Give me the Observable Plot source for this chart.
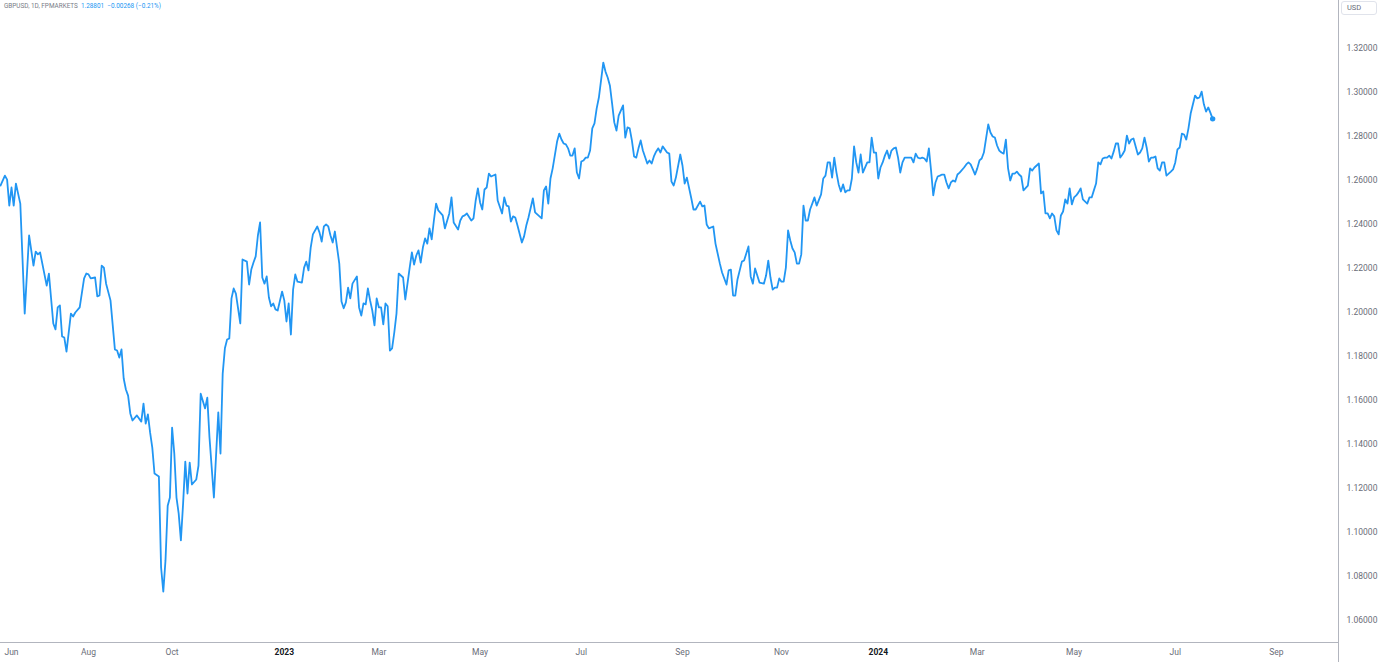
<!DOCTYPE html>
<html>
<head>
<meta charset="utf-8">
<script src="https://cdn.jsdelivr.net/npm/d3@7"></script>
<script src="https://cdn.jsdelivr.net/npm/@observablehq/plot@0.6"></script>
<style>
  html, body { margin: 0; padding: 0; background: #ffffff; }
  #wrap { position: relative; width: 1380px; height: 662px; overflow: hidden; font-family: Roboto, "Noto Sans", sans-serif; }
  #legend { position: absolute; left: 4px; top: 2px; font-size: 6.4px; color: #787b86; white-space: nowrap; }
  #legend .val { color: #2196F3; margin-left: 3px; }
  #unit { position: absolute; left: 1341px; top: 1px; width: 36px; height: 14px; border: 1px solid #e0e3eb; border-radius: 3px; font-size: 7.5px; color: #6a6d78; line-height: 12px; padding-left: 5px; box-sizing: border-box; }
  .rule { position: absolute; background: #b2b5be; }
</style>
</head>
<body>
<div id="wrap">
  <div id="chart"></div>
  <div class="rule" style="left:1338px;top:0;width:1px;height:662px;"></div>
  <div class="rule" style="left:0;top:642px;width:1338px;height:1px;"></div>
  <div id="legend">GBPUSD, 1D, FPMARKETS<span class="val">1.28801&nbsp;&nbsp;−0.00268 (−0.21%)</span></div>
  <div id="unit">USD</div>
</div>
<script>
// Daily closes, keyed by trading-session index
const series2022 = [[0,1.2577],[2,1.2622],[3,1.2604],[4,1.2486],[5,1.2568],[6,1.2486],[7,1.2586],[9,1.2495],[11,1.1995],[13,1.2350],[15,1.2213],[16,1.2277],[17,1.2264],[18,1.2273],[21,1.2122],[22,1.2177],[24,1.1950],[25,1.1923],[26,1.2023],[27,1.2032],[28,1.1891],[29,1.1886],[30,1.1822],[32,1.1995],[33,1.1982],[34,1.2000],[36,1.2023],[38,1.2155],[39,1.2177],[40,1.2173],[41,1.2155],[43,1.2159],[44,1.2073],[45,1.2077],[46,1.2213],[47,1.2204],[48,1.2131],[50,1.2055],[52,1.1832],[53,1.1827],[54,1.1795],[55,1.1832],[56,1.1700],[57,1.1650],[58,1.1622],[59,1.1541],[60,1.1509],[62,1.1532],[64,1.1504],[65,1.1586],[66,1.1495],[67,1.1537],[68,1.1455],[69,1.1386],[70,1.1268],[72,1.1255],[73,1.0841],[74,1.0731],[75,1.0873],[76,1.1122],[77,1.1159],[78,1.1477],[79,1.1359],[80,1.1159],[81,1.1086],[82,1.0964],[83,1.1131],[84,1.1322],[85,1.1177],[86,1.1318],[87,1.1218],[89,1.1241],[90,1.1304],[91,1.1631],[93,1.1564],[94,1.1613],[95,1.1432],[97,1.1159],[99,1.1546],[100,1.1359],[101,1.1722],[102,1.1837],[103,1.1877],[104,1.1882],[105,1.2064],[106,1.2109],[107,1.2086],[109,1.1950],[110,1.2241],[112,1.2231],[113,1.2127],[114,1.2195],[115,1.2227],[116,1.2255],[117,1.2350],[118,1.2409]];

const series2023 = [[119,1.2159],[120,1.2131],[121,1.2164],[122,1.2068],[123,1.2028],[124,1.2041],[125,1.2014],[126,1.2009],[128,1.2095],[129,1.2055],[130,1.1959],[131,1.2041],[132,1.1900],[133,1.2104],[134,1.2173],[135,1.2140],[137,1.2136],[138,1.2204],[139,1.2231],[140,1.2191],[141,1.2295],[142,1.2355],[144,1.2391],[145,1.2364],[146,1.2322],[147,1.2391],[148,1.2400],[149,1.2391],[150,1.2350],[151,1.2318],[152,1.2368],[154,1.2222],[155,1.2050],[156,1.2019],[157,1.2046],[158,1.2113],[159,1.2064],[160,1.2131],[162,1.2164],[163,1.2023],[164,1.1986],[165,1.2041],[166,1.2037],[167,1.2109],[168,1.2055],[169,1.2009],[170,1.1941],[171,1.2064],[172,1.2023],[173,1.2023],[174,1.1946],[175,1.2041],[176,1.2028],[177,1.1827],[178,1.1837],[179,1.1909],[180,1.1995],[181,1.2177],[183,1.2159],[184,1.2059],[185,1.2131],[186,1.2204],[187,1.2273],[188,1.2218],[189,1.2259],[190,1.2282],[191,1.2227],[192,1.2295],[193,1.2337],[194,1.2313],[195,1.2382],[196,1.2332],[197,1.2418],[198,1.2495],[199,1.2464],[201,1.2441],[202,1.2382],[204,1.2450],[205,1.2523],[206,1.2409],[208,1.2377],[209,1.2418],[210,1.2437],[211,1.2441],[212,1.2450],
[214,1.2418],[215,1.2428],[216,1.2509],[217,1.2564],[218,1.2500],[219,1.2468],[220,1.2559],[221,1.2568],[222,1.2631],[223,1.2618],[225,1.2627],[226,1.2509],[228,1.2450],[229,1.2523],[230,1.2486],[231,1.2482],[232,1.2413],[233,1.2437],[234,1.2432],[235,1.2395],[237,1.2318],[238,1.2346],[239,1.2395],[240,1.2432],[242,1.2519],[243,1.2455],[245,1.2437],[246,1.2428],[247,1.2555],[248,1.2573],[249,1.2495],[250,1.2609],[251,1.2655],[253,1.2777],[254,1.2813],[255,1.2786],[256,1.2768],[257,1.2764],[258,1.2746],[259,1.2713],[260,1.2713],[261,1.2746],[262,1.2636],[263,1.2609],[264,1.2686],[265,1.2691],[266,1.2704],[267,1.2704],[268,1.2736],[269,1.2837],[270,1.2859],[271,1.2928],[272,1.2977],[274,1.3136],[275,1.3095],[276,1.3068],[277,1.3032],[278,1.2950],[279,1.2864],[280,1.2827],[281,1.2895],[283,1.2941],[284,1.2795],[285,1.2841],[286,1.2837],[287,1.2782],[288,1.2709],[289,1.2704],[290,1.2746],[291,1.2782],[292,1.2736],[294,1.2677],[295,1.2691],[296,1.2677],[297,1.2709],[298,1.2731],[299,1.2746],[300,1.2727],[301,1.2755],[303,1.2727],
[304,1.2722],[305,1.2595],[306,1.2577],[307,1.2613],[309,1.2718],[310,1.2668],[311,1.2586],[312,1.2613],[314,1.2519],[315,1.2468],[316,1.2468],[318,1.2504],[319,1.2482],[320,1.2486],[321,1.2400],[322,1.2382],[324,1.2391],[325,1.2313],[327,1.2222],[328,1.2182],[330,1.2127],[331,1.2191],[332,1.2195],[333,1.2077],[334,1.2077],[335,1.2150],[337,1.2231],[338,1.2236],[339,1.2268],[340,1.2300],[341,1.2164],[342,1.2131],[343,1.2200],[344,1.2168],[345,1.2136],[347,1.2131],[348,1.2168],[349,1.2236],[350,1.2159],[351,1.2104],[352,1.2113],[353,1.2113],[354,1.2155],[355,1.2140],[356,1.2140],[357,1.2204],[358,1.2373],[359,1.2327],[360,1.2291],[361,1.2273],[362,1.2222],[363,1.2222],[364,1.2264],[365,1.2486],[366,1.2418],[367,1.2418],[368,1.2468],[369,1.2495],[370,1.2523],[371,1.2486],[373,1.2537],
[374,1.2609],[375,1.2622],[376,1.2682],[377,1.2682],[378,1.2613],[379,1.2704],[380,1.2636],[381,1.2582],[382,1.2550],[383,1.2582],[384,1.2546],[385,1.2555],[386,1.2555],[387,1.2609],[388,1.2755],[389,1.2682],[390,1.2636],[391,1.2718],[392,1.2636],[394,1.2682],[395,1.2682],[396,1.2795],[397,1.2727],[398,1.2727]];

const series2024 = [[399,1.2609],[400,1.2659],[401,1.2682],[402,1.2713],[403,1.2736],[404,1.2700],[405,1.2736],[406,1.2746],[407,1.2750],[408,1.2704],[409,1.2636],[410,1.2682],[411,1.2704],[412,1.2704],[414,1.2704],[415,1.2682],[416,1.2722],[417,1.2704],[418,1.2700],[419,1.2704],[420,1.2700],[421,1.2686],[422,1.2746],[423,1.2645],[424,1.2532],[425,1.2591],[426,1.2618],[427,1.2622],[428,1.2627],[429,1.2627],[430,1.2591],[431,1.2564],[432,1.2591],[433,1.2600],[434,1.2595],[435,1.2627],[436,1.2636],[438,1.2659],[439,1.2673],[440,1.2682],[441,1.2673],[442,1.2650],[443,1.2627],[444,1.2655],[445,1.2691],[446,1.2700],[447,1.2727],[448,1.2791],[449,1.2855],[450,1.2818],[451,1.2800],[452,1.2795],[453,1.2759],[454,1.2736],[455,1.2727],[456,1.2722],[457,1.2786],[458,1.2655],
[459,1.2600],[460,1.2631],[461,1.2631],[462,1.2640],[463,1.2627],[464,1.2618],[465,1.2555],[467,1.2577],[468,1.2655],[469,1.2645],[470,1.2659],[472,1.2677],[473,1.2541],[474,1.2550],[475,1.2450],[476,1.2450],[477,1.2428],[478,1.2450],[479,1.2437],[480,1.2373],[481,1.2355],[482,1.2441],[483,1.2459],[484,1.2514],[485,1.2495],[486,1.2564],[487,1.2491],[488,1.2523],[489,1.2532],[490,1.2546],[491,1.2564],[492,1.2514],[494,1.2495],[495,1.2523],[496,1.2523],[497,1.2555],[498,1.2586],[499,1.2682],[500,1.2673],[501,1.2700],[502,1.2704],[503,1.2704],[504,1.2713],[505,1.2700],[506,1.2731],[507,1.2768],[508,1.2768],[509,1.2704],[510,1.2718],[511,1.2736],[512,1.2804],[513,1.2768],[514,1.2786],[515,1.2791],[517,1.2718],[518,1.2727],[519,1.2746],[520,1.2795],[521,1.2750],[522,1.2686],[523,1.2704],[524,1.2704],[525,1.2709],[526,1.2655],[527,1.2645],[528,1.2682],[529,1.2682],[530,1.2622],[531,1.2631],[532,1.2640],[533,1.2650],[534,1.2682],[535,1.2741],[536,1.2750],[537,1.2813],[538,1.2809],[539,1.2786],[540,1.2837],[541,1.2904],[543,1.2986],[544,1.2973],[545,1.2977],[546,1.3004],[547,1.2946],[548,1.2913],[549,1.2932],[550,1.2907],[551,1.2880]];

// Axis tick positions (session index of first session of the month) and labels
const tickSessions = [5, 40, 78, 129, 172, 218, 264, 310, 355, 399, 444, 488, 534, 580];
const tickLabels = ["Jun", "Aug", "Oct", "2023", "Mar", "May", "Jul", "Sep", "Nov", "2024", "Mar", "May", "Jul", "Sep"];
const priceTicks = [1.06, 1.08, 1.10, 1.12, 1.14, 1.16, 1.18, 1.20, 1.22, 1.24, 1.26, 1.28, 1.30, 1.32];
const sessionDomain = [0, 608.2];
const priceDomain = [1.05, 1.3418];

const data = [...series2022, ...series2023, ...series2024].map(([session, close]) => ({session, close}));
const last = data[data.length - 1];
const labelOf = new Map(tickSessions.map((s, i) => [s, tickLabels[i]]));
const isYear = (s) => /^\d{4}$/.test(labelOf.get(s));
const monthTicks = tickSessions.filter((s) => !isYear(s));
const yearTicks = tickSessions.filter(isYear);

const chart = Plot.plot({
  width: 1380,
  height: 662,
  marginLeft: 0,
  marginRight: 42,
  marginTop: 0,
  marginBottom: 20,
  style: {fontFamily: "Roboto, 'Noto Sans', sans-serif", fontSize: "8.5px", color: "#6a6d78", background: "transparent", overflow: "visible"},
  x: {domain: sessionDomain},
  y: {domain: priceDomain},
  marks: [
    Plot.axisY({anchor: "right", ticks: priceTicks, tickFormat: d3.format(".5f"), tickSize: 0, tickPadding: 8, label: null}),
    Plot.axisX({ticks: monthTicks, tickFormat: (d) => labelOf.get(d), tickSize: 0, tickPadding: 6, label: null}),
    Plot.axisX({ticks: yearTicks, tickFormat: (d) => labelOf.get(d), tickSize: 0, tickPadding: 6, label: null, fontWeight: "bold", color: "#131722"}),
    Plot.line(data, {x: "session", y: "close", stroke: "#2196F3", strokeWidth: 1.8, strokeLinejoin: "round"}),
    Plot.dot([last], {x: "session", y: "close", r: 2.7, fill: "#2196F3"})
  ]
});
document.getElementById("chart").appendChild(chart);
</script>
</body>
</html>
